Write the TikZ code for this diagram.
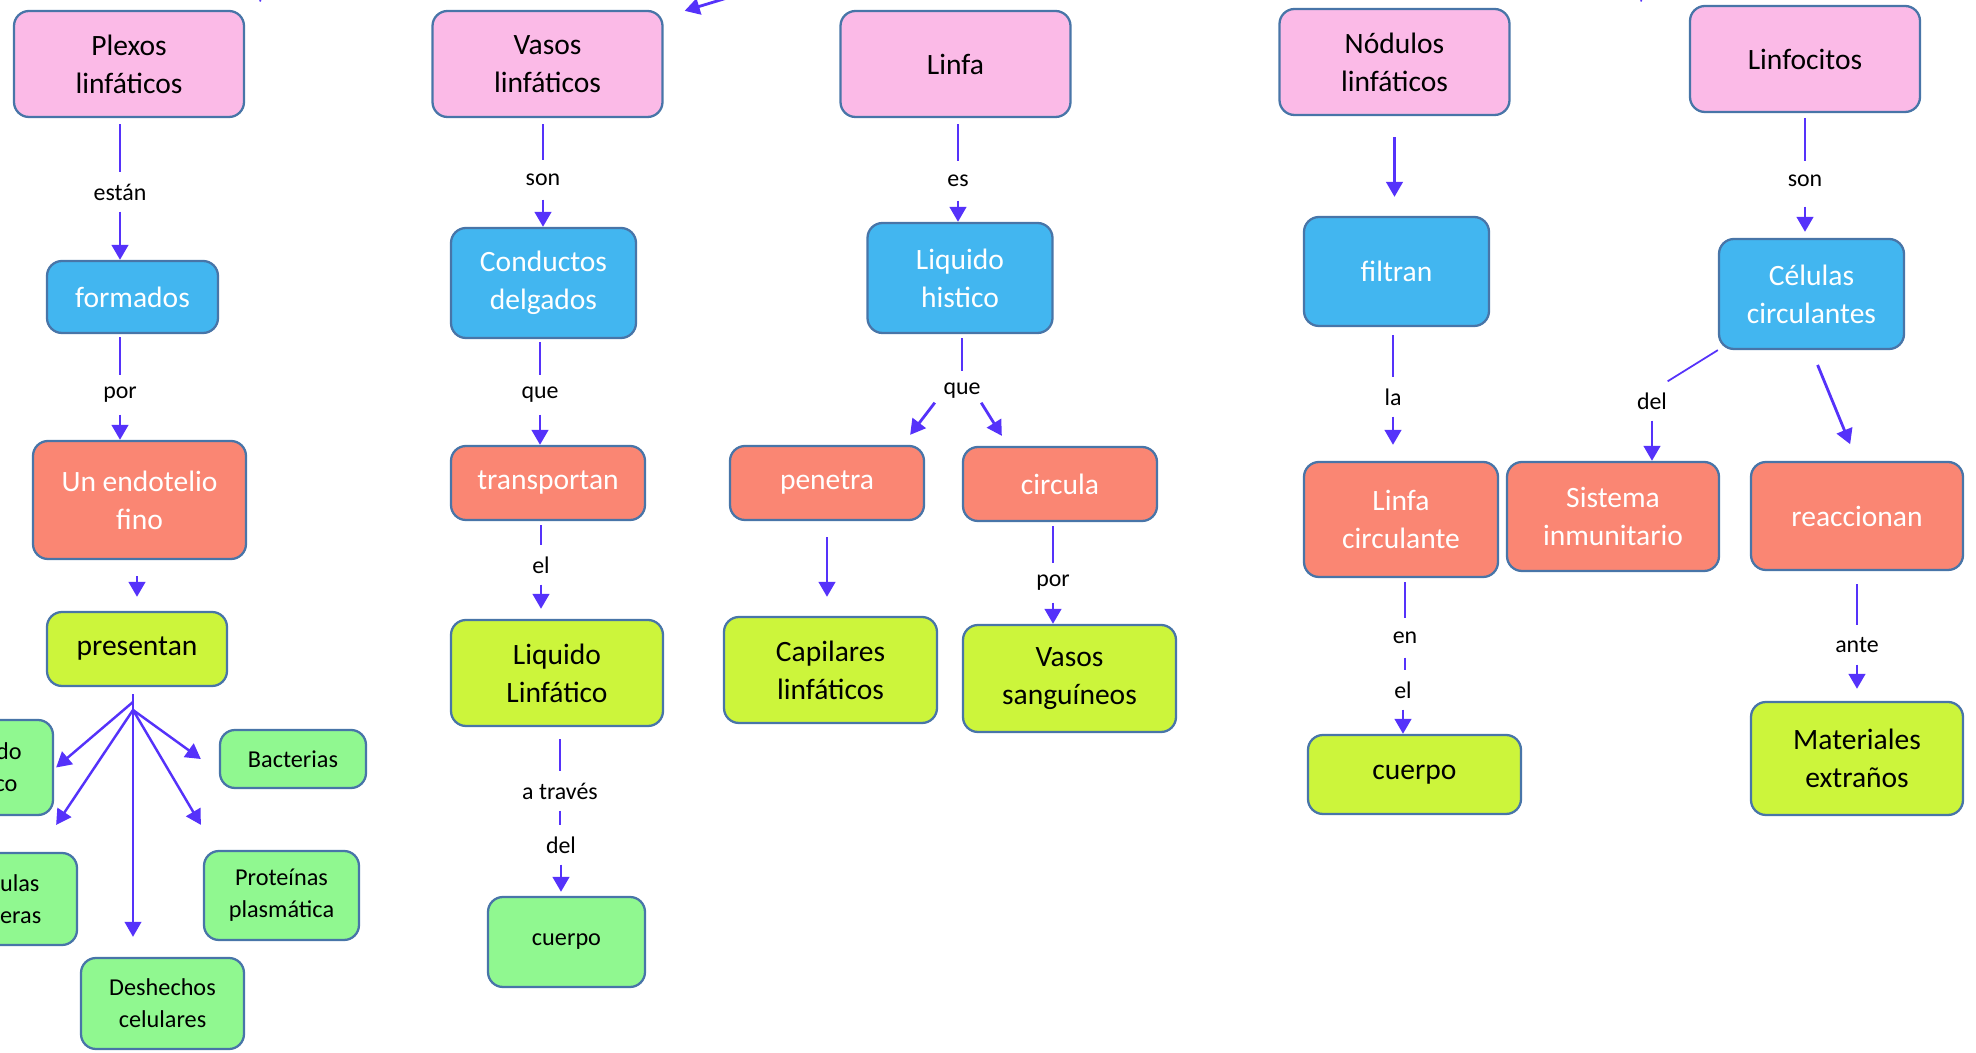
\documentclass[tikz,border=0pt]{standalone}
\usepackage{fontspec}
\setmainfont{Carlito}
\usetikzlibrary{arrows.meta, positioning, calc}

\definecolor{pinkFill}{RGB}{251,186,231}
\definecolor{blueFill}{RGB}{66,182,240}
\definecolor{salmonFill}{RGB}{250,134,115}
\definecolor{limeFill}{RGB}{204,245,59}
\definecolor{mintFill}{RGB}{144,248,144}
\definecolor{boxLine}{RGB}{72,117,168}
\definecolor{linkCol}{RGB}{85,50,250}

\begin{document}
\begin{tikzpicture}[
    conceptBox/.style={rectangle, rounded corners=1.5mm, draw=boxLine, line width=0.65pt, align=center, inner sep=1pt, font=\fontsize{8.4}{10.8}\selectfont},
    pinkBox/.style={conceptBox, fill=pinkFill, text=black, minimum width=2.30cm, minimum height=1.06cm},
    blueBox/.style={conceptBox, fill=blueFill, text=white, minimum width=1.85cm, minimum height=1.10cm},
    salmonBox/.style={conceptBox, fill=salmonFill, text=white, minimum width=1.94cm, minimum height=0.74cm},
    limeBox/.style={conceptBox, fill=limeFill, text=black, minimum width=2.12cm, minimum height=1.06cm},
    mintBox/.style={conceptBox, fill=mintFill, text=black, minimum width=1.55cm, minimum height=0.90cm, font=\fontsize{6.9}{9.2}\selectfont},
    linkLabel/.style={inner sep=0pt, minimum height=0.38cm, font=\fontsize{6.8}{8}\selectfont},
    plainLink/.style={draw=linkCol, line width=0.5pt},
    arrowLink/.style={draw=linkCol, line width=0.8pt, -{Triangle[length=1.5mm, width=1.65mm]}},
    fanLink/.style={arrowLink, line width=0.7pt}
]

    \useasboundingbox (0,0) rectangle (19.76,10.53);
    \clip (0,0) rectangle (19.76,10.53);

    % --- COLUMN 1: PLEXOS LINFATICOS ---
    \node[pinkBox] (plexos) at (1.29, 9.89) {Plexos\\linfáticos};
    \node[blueBox, minimum width=1.71cm, minimum height=0.72cm] (formados) at (1.325, 7.56) {formados};
    \node[salmonBox, minimum width=2.13cm, minimum height=1.18cm] (endotelio) at (1.395, 5.53) {Un endotelio\\fino};
    \node[limeBox, minimum width=1.80cm, minimum height=0.74cm] (presentan) at (1.37, 4.04) {presentan};

    % boxes cut by the left edge
    \node[mintBox, minimum width=1.35cm, minimum height=0.95cm] (liqA) at (-0.145, 2.855) {Liquido\\histico};
    \node[mintBox, minimum width=1.45cm, minimum height=0.92cm] (celB) at (0.045, 1.54) {Células\\enteras};
    \node[mintBox, minimum width=1.46cm, minimum height=0.58cm] (bacterias) at (2.93, 2.94) {Bacterias};
    \node[mintBox, minimum height=0.89cm] (proteinas) at (2.815, 1.575) {Proteínas\\plasmática};
    \node[mintBox, minimum width=1.63cm, minimum height=0.91cm] (deshechos) at (1.625, 0.495) {Deshechos\\celulares};

    \node[linkLabel] (estan) at (1.20, 8.61) {están};
    \node[linkLabel] (por) at (1.20, 6.58) {por};
    \coordinate (fan) at (1.33, 3.43);

    \draw[plainLink, shorten <=0.06cm] (estan |- plexos.south) -- (estan);
    \draw[arrowLink] (estan) -- (estan |- formados.north);
    \draw[plainLink, shorten <=0.03cm] (por |- formados.south) -- (por);
    \draw[arrowLink] (por) -- (por |- endotelio.north);
    \draw[arrowLink, shorten <=0.16cm, shorten >=0.14cm] (presentan.north |- endotelio.south) -- (presentan.north);

    % fan out of presentan
    \draw[draw=linkCol, line width=0.8pt, shorten <=0.07cm] (fan |- presentan.south) -- (fan);
    \draw[fanLink] ([yshift=0.08cm]fan) -- ([xshift=0.02cm]liqA.east);
    \draw[fanLink] (fan) -- ([shift={(-0.22,0.27)}]celB.north east);
    \draw[fanLink, shorten >=0.2cm] (fan) -- (fan |- deshechos.north);
    \draw[fanLink] (fan) -- ([xshift=-0.18cm]bacterias.west);
    \draw[fanLink] (fan) -- ([shift={(-0.02,0.25)}]proteinas.north west);

    % --- COLUMN 2: VASOS LINFATICOS ---
    \node[pinkBox] (vasos) at (5.475, 9.89) {Vasos\\linfáticos};
    \node[blueBox] (conductos) at (5.435, 7.70) {Conductos\\delgados};
    \node[salmonBox] (transportan) at (5.48, 5.70) {transportan};
    \node[limeBox] (liqlinf) at (5.57, 3.80) {Liquido\\Linfático};
    \node[mintBox, minimum width=1.57cm] (cuerpoB) at (5.665, 1.11) {cuerpo};

    \node[linkLabel] (son) at (5.43, 8.73) {son};
    \node[linkLabel] (que) at (5.40, 6.58) {que};
    \node[linkLabel] (el) at (5.41, 4.88) {el};
    \node[linkLabel] (atraves) at (5.60, 2.62) {a través};
    \node[linkLabel] (del) at (5.61, 2.08) {del};

    \draw[plainLink, shorten <=0.06cm] (son |- vasos.south) -- (son);
    \draw[arrowLink] (son) -- (son |- conductos.north);
    \draw[plainLink, shorten <=0.03cm] (que |- conductos.south) -- (que);
    \draw[arrowLink] (que) -- (que |- transportan.north);
    \draw[plainLink, shorten <=0.04cm] (el |- transportan.south) -- (el);
    \draw[arrowLink, shorten >=0.1cm] (el) -- (el |- liqlinf.north);
    \draw[plainLink, shorten <=0.12cm] (atraves |- liqlinf.south) -- (atraves);
    \draw[plainLink] (atraves) -- (atraves |- del.north);
    \draw[arrowLink, shorten >=0.04cm] (del) -- (del |- cuerpoB.north);

    % --- COLUMN 3: LINFA ---
    \node[pinkBox] (linfa) at (9.555, 9.89) {Linfa};
    \node[blueBox] (histico) at (9.60, 7.75) {Liquido\\histico};
    \node[salmonBox] (penetra) at (8.27, 5.70) {penetra};
    \node[salmonBox] (circula) at (10.60, 5.69) {circula};
    \node[limeBox, minimum width=2.13cm] (capilares) at (8.305, 3.83) {Capilares\\linfáticos};
    \node[limeBox, minimum width=2.13cm, minimum height=1.07cm] (vasossang) at (10.695, 3.745) {Vasos\\sanguíneos};

    \node[linkLabel] (es) at (9.58, 8.72) {es};
    \node[linkLabel] (queB) at (9.62, 6.62) {que};
    \node[linkLabel] (porB) at (10.53, 4.70) {por};

    \draw[plainLink, shorten <=0.06cm] (es |- linfa.south) -- (es);
    \draw[arrowLink] (es) -- (es |- histico.north);
    \draw[plainLink, shorten <=0.04cm] (queB |- histico.south) -- (queB);
    \draw[arrowLink] ([shift={(-0.08,0.08)}]queB.south west) -- ([shift={(-0.15,0.1)}]penetra.north east);
    \draw[arrowLink] ([yshift=0.08cm]queB.south east) -- ([shift={(0.4,0.1)}]circula.north west);
    \draw[arrowLink, shorten <=0.16cm, shorten >=0.19cm] (penetra.south) -- (penetra.south |- capilares.north);
    \draw[plainLink, shorten <=0.04cm] (porB |- circula.south) -- (porB);
    \draw[arrowLink] (porB) -- (porB |- vasossang.north);

    % --- COLUMN 4: NODULOS LINFATICOS ---
    \node[pinkBox] (nodulos) at (13.945, 9.91) {Nódulos\\linfáticos};
    \node[blueBox, minimum height=1.09cm] (filtran) at (13.965, 7.815) {filtran};
    \node[salmonBox, minimum height=1.15cm] (linfacirc) at (14.01, 5.335) {Linfa\\circulante};
    \node[limeBox, minimum width=2.13cm, minimum height=0.79cm] (cuerpoD) at (14.145, 2.785) {cuerpo};

    \node[linkLabel] (la) at (13.93, 6.56) {la};
    \node[linkLabel] (en) at (14.05, 4.15) {en};
    \node[linkLabel] (elB) at (14.03, 3.63) {el};

    \draw[arrowLink, shorten <=0.21cm, shorten >=0.19cm] (nodulos.south) -- (nodulos.south |- filtran.north);
    \draw[plainLink, shorten <=0.08cm] (la |- filtran.south) -- (la);
    \draw[arrowLink, shorten >=0.16cm] (la) -- (la |- linfacirc.north);
    \draw[plainLink, shorten <=0.04cm] (en |- linfacirc.south) -- (en);
    \draw[plainLink] (en) -- (en |- elB.north);
    \draw[arrowLink] (elB) -- (elB |- cuerpoD.north);

    % --- COLUMN 5: LINFOCITOS ---
    \node[pinkBox] (linfocitos) at (18.05, 9.94) {Linfocitos};
    \node[blueBox] (celulas) at (18.115, 7.59) {Células\\circulantes};
    \node[salmonBox, minimum width=2.12cm, minimum height=1.09cm] (sistema) at (16.13, 5.365) {Sistema\\inmunitario};
    \node[salmonBox, minimum width=2.12cm, minimum height=1.08cm] (reaccionan) at (18.57, 5.37) {reaccionan};
    \node[limeBox, minimum height=1.13cm] (materiales) at (18.57, 2.945) {Materiales\\extraños};

    \node[linkLabel] (sonB) at (18.05, 8.72) {son};
    \node[linkLabel] (delB) at (16.52, 6.52) {del};
    \node[linkLabel] (ante) at (18.57, 4.08) {ante};

    \draw[plainLink, shorten <=0.05cm] (sonB |- linfocitos.south) -- (sonB);
    \draw[arrowLink, shorten <=0.06cm, shorten >=0.06cm] (sonB) -- (sonB |- celulas.north);
    \draw[plainLink] (celulas.south west) -- (delB.north east);
    \draw[arrowLink] (delB) -- (delB |- sistema.north);
    \draw[arrowLink, shorten <=0.16cm, shorten >=0.18cm] (celulas.south) -- (reaccionan.north);
    \draw[plainLink, shorten <=0.13cm] (ante |- reaccionan.south) -- (ante);
    \draw[arrowLink, shorten >=0.12cm] (ante) -- (ante |- materiales.north);

    % --- LINKS COMING FROM ABOVE THE FRAME ---
    \coordinate (offA) at (2.66, 10.70);
    \coordinate (offAend) at (2.60, 10.515);
    \coordinate (offV) at (7.60, 10.65);
    \coordinate (offL) at (16.45, 10.70);
    \coordinate (offLend) at (16.41, 10.515);
    \draw[plainLink] (offA) -- (offAend);
    \draw[arrowLink] (offV) -- ([shift={(0.21,-0.01)}]vasos.north east);
    \draw[plainLink] (offL) -- (offLend);

\end{tikzpicture}
\end{document}
